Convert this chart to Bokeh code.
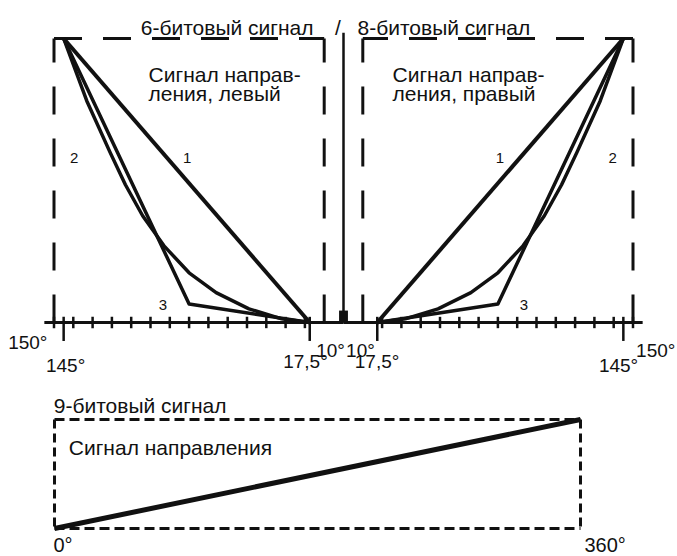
from bokeh.plotting import figure
from bokeh.models import Range1d, ColumnDataSource
from bokeh.core.properties import value
from bokeh.embed import file_html
from bokeh.resources import INLINE

# ---------------- data ----------------
# direction signal level (0..1) against angle in degrees (6-bit left / 8-bit right, mirrored)
curve1_deg = [145, 17.5]
curve1_lev = [1.0, 0.0]
curve2_deg = [145, 133, 121, 113, 104, 93, 80, 66, 49, 32, 17.5]
curve2_lev = [1.0, 0.78, 0.60, 0.485, 0.375, 0.27, 0.175, 0.105, 0.048, 0.013, 0.0]
curve3_deg = [145, 80, 17.5]
curve3_lev = [1.0, 0.065, 0.0]
curve_names = ["1", "2", "3"]

# 9-bit direction signal
nine_deg = [0, 360]
nine_lev = [0.0, 1.0]

# axes / frames
axis_limit = 155
box_deg = [150, 10]
box_lev = [0.0, 1.0]
minor_ticks = [150, 140, 130, 120, 110, 100, 90, 80, 70, 60, 50, 40, 30, 20]
major_ticks = [145, 17.5]
tick_txt_left = ["150°", "145°", "17,5°", "10°"]
tick_txt_right = ["10°", "17,5°", "145°", "150°"]
bottom_box_deg = [0, 360]
bottom_tick_txt = ["0°", "360°"]
center_deg = 0
center_top = 1.02

title_left = "6-битовый сигнал"
title_right = "8-битовый сигнал"
box_text_left = ["Сигнал направ-", "ления, левый"]
box_text_right = ["Сигнал направ-", "ления, правый"]
title_bottom = "9-битовый сигнал"
box_text_bottom = "Сигнал направления"

# ---------------- layout ----------------
W, H = 677, 556
OX, OY = 0, 0
CX, PXD = 343, 1.93           # centre (0 deg) and px per degree, upper panels
Y0, Y1 = 322, 38              # level 0 / level 1, upper panels
BX0, BX1 = 54, 580            # 0 / 360 deg, lower panel
BY0, BY1 = 528, 419           # level 0 / 1, lower panel

ky = Y0 - Y1
kbx = (BX1 - BX0) / 360.0
kby = BY0 - BY1

p = figure(width=W, height=H, output_backend="svg", toolbar_location=None, title=None,
           x_range=Range1d((OX - CX) / PXD, (OX + W - CX) / PXD),
           y_range=Range1d((Y0 - (OY + H)) / ky, (Y0 - OY) / ky),
           x_axis_location=None, y_axis_location=None, min_border=0)
p.extra_x_ranges = {
    "left": Range1d((CX - OX) / PXD, (CX - OX - W) / PXD),
    "bx": Range1d((OX - BX0) / kbx, (OX + W - BX0) / kbx),
}
p.extra_y_ranges = {"by": Range1d((BY0 - (OY + H)) / kby, (BY0 - OY) / kby)}
p.xgrid.visible = False
p.ygrid.visible = False
p.outline_line_color = None
p.background_fill_color = "white"
p.border_fill_color = "white"

FONT = value("Liberation Sans")
INK = "#111111"


def txt(x, y, t, size, align="left", xr="default", yr="default"):
    src = ColumnDataSource(dict(x=list(x), y=list(y), t=list(t)))
    p.text("x", "y", text="t", source=src, x_range_name=xr, y_range_name=yr,
           text_font=FONT, text_font_size=value(f"{size}px"), text_align=align,
           text_baseline="alphabetic", text_color=INK)


# ---- upper panels (left mirrored, right normal) ----
for side in ["left", "default"]:
    # axis line
    p.line([axis_limit, center_deg], [0, 0], x_range_name=side, line_color=INK, line_width=3)
    # ticks
    p.segment(x0=minor_ticks, x1=minor_ticks, y0=[-0.02] * len(minor_ticks),
              y1=[0.02] * len(minor_ticks), x_range_name=side, line_color=INK, line_width=2.5)
    p.segment(x0=major_ticks, x1=major_ticks, y0=[-0.065] * len(major_ticks),
              y1=[0.02] * len(major_ticks), x_range_name=side, line_color=INK, line_width=2.5)
    # dashed frame
    p.multi_line(xs=[[box_deg[0], box_deg[0]], [box_deg[1], box_deg[1]]],
                 ys=[[box_lev[0], box_lev[1]], [box_lev[0], box_lev[1]]],
                 x_range_name=side, line_color=INK, line_width=3, line_dash="28 24")
    p.line([box_deg[0], box_deg[1]], [box_lev[1], box_lev[1]], x_range_name=side,
           line_color=INK, line_width=3, line_dash="28 21")
    # curves
    p.line(curve2_deg, curve2_lev, x_range_name=side, line_color=INK, line_width=3.5,
           line_join="round")
    p.line(curve3_deg, curve3_lev, x_range_name=side, line_color=INK, line_width=3.5,
           line_join="round")
    p.line(curve1_deg, curve1_lev, x_range_name=side, line_color=INK, line_width=4,
           line_join="round")
    # curve numbers
    txt([81, 139.5, 93.5], [0.5775, 0.5775, 0.063], curve_names, 15, "center", xr=side)

# centre divider
p.line([center_deg, center_deg], [0, center_top], line_color=INK, line_width=2.5)
p.block(x=[center_deg - 2.3], y=[0], width=[4.6], height=[0.042], fill_color=INK,
        line_color=None)

# titles
txt([15.54], [1.0387], [title_left], 21, "right", xr="left")
txt([-2.85], [1.0387], ["/"], 21, "center")
txt([7.25], [1.0387], [title_right], 21, "left")
txt([101.0, 101.0], [0.873, 0.806], box_text_left, 21, "left", xr="left")
txt([25.4, 25.4], [0.873, 0.806], box_text_right, 21, "left")

# tick labels
txt([153.4], [-0.0704], tick_txt_left[:1], 19, "right", xr="left")
txt([144.0, 19.7, 6.7], [-0.1514, -0.1373, -0.0986], tick_txt_left[1:], 19, "center", xr="left")
txt([8.8, 17.4, 142.5], [-0.0986, -0.1373, -0.1514], tick_txt_right[:3], 19, "center")
txt([151.6], [-0.0986], tick_txt_right[3:], 19, "left")

# ---- lower panel ----
bx0, bx1 = bottom_box_deg
p.multi_line(xs=[[bx0, bx1], [bx0, bx1]], ys=[[1, 1], [0, 0]], x_range_name="bx",
             y_range_name="by", line_color=INK, line_width=3, line_dash="10 5")
p.multi_line(xs=[[bx0, bx0], [bx1, bx1]], ys=[[1, 0], [1, 0]], x_range_name="bx",
             y_range_name="by", line_color=INK, line_width=3, line_dash="9 5")
p.line(nine_deg, nine_lev, x_range_name="bx", y_range_name="by", line_color=INK,
       line_width=5)
txt([-0.5], [1.128], [title_bottom], 21, "left", xr="bx", yr="by")
txt([9.8], [0.743], [box_text_bottom], 21, "left", xr="bx", yr="by")
txt([-0.7, 362.7], [-0.147, -0.147], bottom_tick_txt, 20, "left", xr="bx", yr="by")

open("out.html", "w").write(file_html(p, INLINE))
